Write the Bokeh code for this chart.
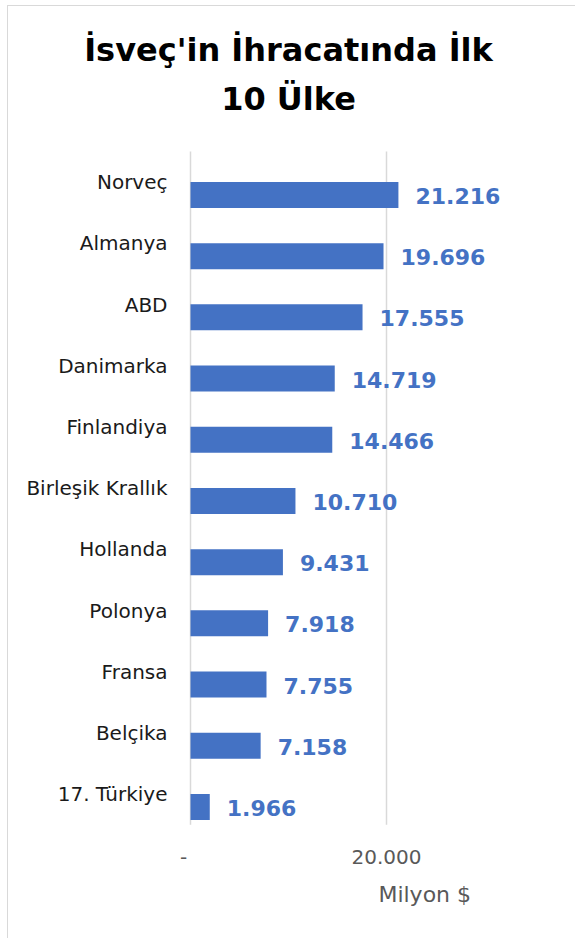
from bokeh.plotting import figure
from bokeh.models import ColumnDataSource, Range1d
from bokeh.transform import dodge
from bokeh.core.properties import value
from bokeh.embed import file_html
from bokeh.resources import INLINE

countries = ["Norveç", "Almanya", "ABD", "Danimarka", "Finlandiya", "Birleşik Krallık",
             "Hollanda", "Polonya", "Fransa", "Belçika", "17. Türkiye"]
values = [21216, 19696, 17555, 14719, 14466, 10710, 9431, 7918, 7755, 7158, 1966]
value_labels = ["21.216", "19.696", "17.555", "14.719", "14.466", "10.710",
                "9.431", "7.918", "7.755", "7.158", "1.966"]
x_ticks = [0, 20000]
x_tick_labels = ["-", "20.000"]
title_lines = ["İsveç'in İhracatında İlk", "10 Ülke"]
axis_title = ["Milyon $"]

FONT = "DejaVu Sans"
BLUE = "#4472C4"
GRAY = "#595959"

n = len(countries)
pos = [n - 1 - i for i in range(n)]  # Norveç on top

# ---- layout (pixels -> data) ----
W, H = 568, 933
PX_PER_UNIT = 196 / 20000          # x scale
ROW = 61.2                         # px per category
X0_PX = 182                        # canvas x of value 0
CAT_TOP_PX = 145                   # canvas y of top of category area
x_start = -X0_PX / PX_PER_UNIT
x_end = (W - X0_PX) / PX_PER_UNIT
y_end = (n - 0.5) + CAT_TOP_PX / ROW
y_start = y_end - H / ROW

src = ColumnDataSource(dict(country=countries, value=values, vlabel=value_labels,
                            pos=pos, zero=[0] * n))

p = figure(width=W, height=H, output_backend="svg", toolbar_location=None,
           x_range=Range1d(x_start, x_end), y_range=Range1d(y_start, y_end),
           min_border=0)
p.styles = {"border-left": "1px solid #D9D9D9", "border-top": "1px solid #D9D9D9",
            "margin-left": "7px", "margin-top": "5px"}
p.outline_line_color = None
p.xaxis.visible = False
p.yaxis.visible = False
p.grid.visible = False

# vertical gridlines at tick positions
p.segment(x0=x_ticks, x1=x_ticks, y0=[-0.5] * len(x_ticks), y1=[n - 0.5] * len(x_ticks),
          line_color="#D9D9D9", line_width=1.5)

# bars (offset below the category centre, as in the original)
BAR_SHIFT = -0.21
p.hbar(y=dodge("pos", BAR_SHIFT), left=0, right="value", height=0.425, source=src,
       fill_color=BLUE, line_color=None)

# category labels
p.text(x="zero", y="pos", text="country", source=src, x_offset=-23,
       text_align="right", text_baseline="middle", text_font=value(FONT),
       text_font_size=value("20px"), text_color="#1A1A1A")

# value labels
p.text(x="value", y=dodge("pos", BAR_SHIFT), text="vlabel", source=src, x_offset=17,
       y_offset=1, text_align="left", text_baseline="middle", text_font=value(FONT),
       text_font_size=value("22px"), text_font_style="bold", text_color=BLUE)

# tick labels
p.text(x=x_ticks, y=[-0.5] * len(x_ticks), text=x_tick_labels, x_offset=[-7, 0],
       y_offset=32, text_align="center", text_baseline="middle", text_font=value(FONT),
       text_font_size=value("20px"), text_color=GRAY)

# axis title
p.text(x=[23900], y=[-0.5], text=axis_title, y_offset=70,
       text_align="center", text_baseline="middle", text_font=value(FONT),
       text_font_size=value("22px"), text_color=GRAY)

# chart title
xc = (x_start + x_end) / 2
p.text(x=[xc] * len(title_lines), y=[y_end] * len(title_lines), text=title_lines,
       x_offset=-4, y_offset=[43, 92], text_align="center", text_baseline="middle",
       text_font=value(FONT), text_font_size=value("32px"), text_font_style="bold",
       text_color="#000000")

open("out.html", "w").write(file_html(p, INLINE))
